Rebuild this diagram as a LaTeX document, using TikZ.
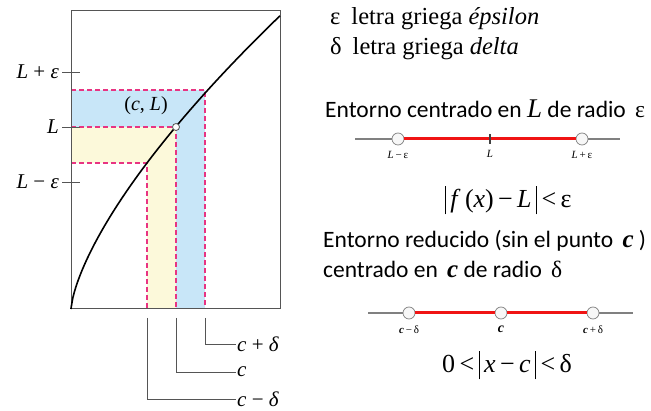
\documentclass[tikz,border=0pt]{standalone}
\usepackage{fontspec}
\setmainfont{Liberation Serif}
\newfontfamily\calfont{Carlito}
\usetikzlibrary{positioning}
\definecolor{bandblue}{RGB}{200,230,248}
\definecolor{bandyellow}{RGB}{252,249,218}
\definecolor{guidepink}{RGB}{232,52,130}
\definecolor{framegray}{RGB}{85,85,85}
\definecolor{linered}{RGB}{240,20,20}
\newcommand{\tallbar}{\,\rule[-0.25em]{0.05em}{1.1em}\,}

\begin{document}
\begin{tikzpicture}[x=1pt, y=-1pt,
    guide/.style={guidepink, line width=1.2pt, dash pattern=on 5pt off 3pt},
    leader/.style={framegray, line width=0.8pt},
    tickmark/.style={framegray, line width=0.8pt},
    ticklbl/.style={anchor=east, inner sep=1pt, font=\fontsize{21}{24}\selectfont},
    leadlbl/.style={anchor=west, inner sep=1pt, font=\fontsize{21}{24}\selectfont},
    numline/.style={gray, line width=1.2pt},
    redseg/.style={linered, line width=3pt},
    openpt/.style={circle, draw=gray, fill=gray!6, line width=0.7pt, inner sep=0pt, minimum size=12pt},
    ptlbl/.style={below=5pt, inner sep=1pt, font=\fontsize{11}{13}\selectfont},
    serifline/.style={anchor=base west, inner sep=0pt, font=\fontsize{24.5}{28}\selectfont},
    calline/.style={anchor=base west, inner sep=0pt, font=\calfont\fontsize{23.5}{27}\selectfont},
    formula/.style={inner sep=1pt, font=\fontsize{26}{30}\selectfont}]
  \useasboundingbox (0,0) rectangle (651,411);

  % Bands
  \fill[bandblue] (71,90) rectangle (205,127);
  \fill[bandblue] (176,127) rectangle (205,309);
  \fill[bandyellow] (71,127) rectangle (176,163);
  \fill[bandyellow] (147,163) rectangle (176,309);

  % Dashed guides
  \draw[guide] (71,90) -- (205,90) -- (205,309);
  \draw[guide] (71,127) -- (176,127) -- (176,309);
  \draw[guide] (71,163) -- (147,163) -- (147,309);

  % Frame and curve
  \draw[framegray, line width=1pt] (71,11) rectangle (280,309);
  \draw[line width=1.6pt] (71,309) -- plot[domain=0.05:209, samples=120] ({71+\x}, {309-7.39*\x^0.689});
  \node[circle, draw=framegray, fill=white, line width=0.8pt, inner sep=0pt, minimum size=7pt] (cL) at (176,127) {};
  \node[font=\fontsize{20}{24}\selectfont] (cLlbl) at (146,106) {(\textit{c}, \textit{L})};

  % Ticks on the left
  \node[ticklbl] (lpe) at (60,72) {\textit{L} + \textit{ε}};
  \node[ticklbl] (lval) at (60,127) {\textit{L}};
  \node[ticklbl] (lme) at (60,182) {\textit{L} − \textit{ε}};
  \draw[tickmark] ([xshift=2pt]lpe.east) -- (80,72);
  \draw[tickmark] ([xshift=2pt]lval.east) -- (80,127);
  \draw[tickmark] ([xshift=2pt]lme.east) -- (80,182);

  % Leaders below
  \node[leadlbl] (cpd) at (236,344) {\textit{c} + \textit{δ}};
  \node[leadlbl] (cval) at (236,372) {\textit{c}};
  \node[leadlbl] (cmd) at (236,399) {\textit{c} − \textit{δ}};
  \draw[leader] (205,318) |- (cpd.west);
  \draw[leader] (176,318) |- (cval.west);
  \draw[leader] (147,318) |- (cmd.west);

  % Text on the right
  \node[serifline] (epsline) at (330,25) {ε\hspace{0.45em}letra griega \textit{épsilon}};
  \node[serifline] (dltline) at (330,55) {δ\hspace{0.45em}letra griega \textit{delta}};
  \node[calline] (entL) at (325,118) {Entorno centrado en {\rmfamily\itshape\fontsize{27}{27}\selectfont L} de radio\, {\rmfamily ε}};

  % Neighbourhood of L
  \draw[numline] (355,139) -- (620,139);
  \node[openpt] (ptLm) at (398,139) {};
  \node[fill=black!75, minimum width=2.5pt, minimum height=10pt, inner sep=0pt] (ptL) at (490,139) {};
  \node[openpt] (ptLp) at (582,139) {};
  \draw[redseg] (ptLm) -- (ptL);
  \draw[redseg] (ptL) -- (ptLp);
  \node[ptlbl] (lblLm) at (ptLm.south) {\textit{L}\,−\,ε};
  \node[ptlbl] (lblL) at (ptL.south) {\textit{L}};
  \node[ptlbl] (lblLp) at (ptLp.south) {\textit{L}\,+\,ε};
  \node[formula] (absf) at (506,200) {\tallbar\textit{f}\,(\textit{x})\,−\,\textit{L}\tallbar<\,ε};

  % Reduced neighbourhood of c
  \node[calline] (entc) at (323,248) {Entorno reducido (sin el punto\, {\rmfamily\bfseries\itshape\fontsize{25}{25}\selectfont c} )};
  \node[calline] (entc2) at (323,278) {centrado en\, {\rmfamily\bfseries\itshape\fontsize{25}{25}\selectfont c} de radio\, {\rmfamily δ}};
  \draw[numline] (368,313) -- (633,313);
  \node[openpt] (ptcm) at (409,313) {};
  \node[openpt] (ptc) at (501,313) {};
  \node[openpt] (ptcp) at (593,313) {};
  \draw[redseg] (ptcm) -- (ptc);
  \draw[redseg] (ptc) -- (ptcp);
  \node[ptlbl] (lblcm) at (ptcm.south) {\textbf{\textit{c}}\,−\,δ};
  \node[ptlbl, font=\fontsize{14}{16}\selectfont] (lblc) at (ptc.south) {\textbf{\textit{c}}};
  \node[ptlbl] (lblcp) at (ptcp.south) {\textbf{\textit{c}}\,+\,δ};
  \node[formula] (absx) at (507,365) {0\,<\tallbar\textit{x}\,−\,\textit{c}\tallbar<\,δ};
\end{tikzpicture}
\end{document}
